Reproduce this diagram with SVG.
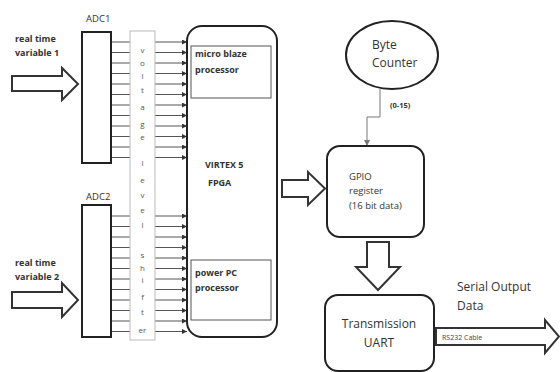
<svg xmlns="http://www.w3.org/2000/svg" width="560" height="372" viewBox="0 0 560 372">
<defs>
<style>
text{font-family:"Open Sans","Liberation Sans",sans-serif;fill:#333}
.s{font-size:9px;font-weight:bold}
.m{font-size:9.5px}
.l{font-size:12px}
.lt{font-size:8px;fill:#555;text-anchor:middle}
.blk{fill:#fff;stroke:#222;stroke-width:2}
.thin{fill:none;stroke:#555;stroke-width:1}
.bus{stroke:#555;stroke-width:1;marker-end:url(#ah)}
.bus0{stroke:#555;stroke-width:1}
.big{fill:#fff;stroke:#333;stroke-width:2;stroke-linejoin:miter}
</style>
<marker id="ah" viewBox="0 0 6 6" refX="6" refY="3" markerWidth="5" markerHeight="5" orient="auto" markerUnits="userSpaceOnUse"><path d="M0,0L6,3L0,6z" fill="#333"/></marker>
<marker id="ah2" viewBox="0 0 6 6" refX="6" refY="3" markerWidth="6" markerHeight="6" orient="auto" markerUnits="userSpaceOnUse"><path d="M0,0L6,3L0,6z" fill="#777"/></marker>
</defs>
<rect width="560" height="372" fill="#fff"/>

<g id="connectors">
<g id="bus1">
<path class="bus0" d="M111,42H130M111,52.5H130M111,63H130M111,73.5H130M111,84H130M111,94.5H130M111,105H130M111,115.5H130M111,126H130M111,136.5H130M111,147H130M111,157.5H130"/>
<line class="bus" x1="155" y1="42" x2="187" y2="42"/><line class="bus" x1="155" y1="52.5" x2="187" y2="52.5"/>
<line class="bus" x1="155" y1="63" x2="187" y2="63"/><line class="bus" x1="155" y1="73.5" x2="187" y2="73.5"/>
<line class="bus" x1="155" y1="84" x2="187" y2="84"/><line class="bus" x1="155" y1="94.5" x2="187" y2="94.5"/>
<line class="bus" x1="155" y1="105" x2="187" y2="105"/><line class="bus" x1="155" y1="115.5" x2="187" y2="115.5"/>
<line class="bus" x1="155" y1="126" x2="187" y2="126"/><line class="bus" x1="155" y1="136.5" x2="187" y2="136.5"/>
<line class="bus" x1="155" y1="147" x2="187" y2="147"/><line class="bus" x1="155" y1="157.5" x2="187" y2="157.5"/>
</g>
<g id="bus2">
<path class="bus0" d="M111,216H130M111,226.5H130M111,237H130M111,247.5H130M111,258H130M111,268.5H130M111,279H130M111,289.5H130M111,300H130M111,310.5H130M111,321H130M111,331.5H130"/>
<line class="bus" x1="155" y1="216" x2="187" y2="216"/><line class="bus" x1="155" y1="226.5" x2="187" y2="226.5"/>
<line class="bus" x1="155" y1="237" x2="187" y2="237"/><line class="bus" x1="155" y1="247.5" x2="187" y2="247.5"/>
<line class="bus" x1="155" y1="258" x2="187" y2="258"/><line class="bus" x1="155" y1="268.5" x2="187" y2="268.5"/>
<line class="bus" x1="155" y1="279" x2="187" y2="279"/><line class="bus" x1="155" y1="289.5" x2="187" y2="289.5"/>
<line class="bus" x1="155" y1="300" x2="187" y2="300"/><line class="bus" x1="155" y1="310.5" x2="187" y2="310.5"/>
<line class="bus" x1="155" y1="321" x2="187" y2="321"/><line class="bus" x1="155" y1="331.5" x2="187" y2="331.5"/>
</g>
<path class="big" d="M12,76H62V68L78,84L62,100V91H12Z"/>
<path class="big" d="M12,292H62V283L78,300L62,317V308H12Z"/>
<path class="big" d="M282,180H308V172L325,188.5L308,205V197H282Z"/>
<path class="big" d="M367,242H389V267H400L378,290L356,267H367Z"/>
<path class="big" d="M436,328H545V320L559,336.5L545,353V345H436Z"/>
<path d="M380,89V117H367V146" fill="none" stroke="#777" stroke-width="1" marker-end="url(#ah2)"/>
<text x="390" y="108" class="s" style="font-size:7.5px">(0-15)</text>
<text x="442" y="339.5" style="font-size:7px;fill:#444">RS232 Cable</text>
</g>

<g id="in1"><text x="15" y="42" class="s">real time</text><text x="15" y="56" class="s">variable 1</text></g>
<g id="in2"><text x="15" y="266" class="s">real time</text><text x="15" y="280" class="s">variable 2</text></g>

<g id="adc1"><rect class="blk" x="82" y="32" width="29" height="131"/><text x="86" y="22" class="m">ADC1</text></g>
<g id="adc2"><rect class="blk" x="82" y="205" width="29" height="132"/><text x="86" y="200" class="m">ADC2</text></g>

<g id="shifter">
<rect x="130" y="31" width="25" height="309" fill="#fff" stroke="#bbb" stroke-width="1"/>
<text class="lt" x="142.5" y="53">v</text><text class="lt" x="142.5" y="66">o</text><text class="lt" x="142.5" y="79">l</text>
<text class="lt" x="142.5" y="93">t</text><text class="lt" x="142.5" y="110">a</text><text class="lt" x="142.5" y="127">g</text>
<text class="lt" x="142.5" y="140">e</text>
<text class="lt" x="142.5" y="166">l</text><text class="lt" x="142.5" y="183">e</text><text class="lt" x="142.5" y="198">v</text>
<text class="lt" x="142.5" y="213">e</text><text class="lt" x="142.5" y="228">l</text>
<text class="lt" x="142.5" y="258">s</text><text class="lt" x="142.5" y="271">h</text><text class="lt" x="142.5" y="283">i</text>
<text class="lt" x="142.5" y="300">f</text><text class="lt" x="142.5" y="315">t</text><text class="lt" x="142.5" y="333">er</text>
</g>

<g id="fpga">
<rect class="blk" x="187" y="26" width="90" height="311" rx="15"/>
<rect class="thin" x="191" y="46" width="80" height="52"/>
<text x="195" y="57" class="s">micro blaze</text><text x="195" y="73" class="s">processor</text>
<text x="205" y="168" class="s">VIRTEX 5</text><text x="208" y="186" class="s">FPGA</text>
<rect class="thin" x="191" y="260" width="80" height="60"/>
<text x="195" y="276" class="s">power PC</text><text x="195" y="291" class="s">processor</text>
</g>

<g id="counter"><ellipse class="blk" cx="392" cy="55" rx="46" ry="34"/>
<text x="372" y="49" class="l">Byte</text><text x="372" y="67" class="l">Counter</text></g>

<g id="gpio"><rect class="blk" x="327" y="146" width="97" height="91" rx="13"/>
<text x="349" y="180" class="m">GPIO</text><text x="349" y="194" class="m">register</text><text x="349" y="209" class="m">(16 bit data)</text></g>

<g id="uart"><rect class="blk" x="325" y="295" width="109" height="76" rx="13"/>
<text x="379" y="328" class="l" text-anchor="middle">Transmission</text><text x="379" y="347" class="l" text-anchor="middle">UART</text></g>

<g id="serial"><text x="457" y="291" class="l">Serial Output</text><text x="457" y="310" class="l">Data</text></g>
</svg>
